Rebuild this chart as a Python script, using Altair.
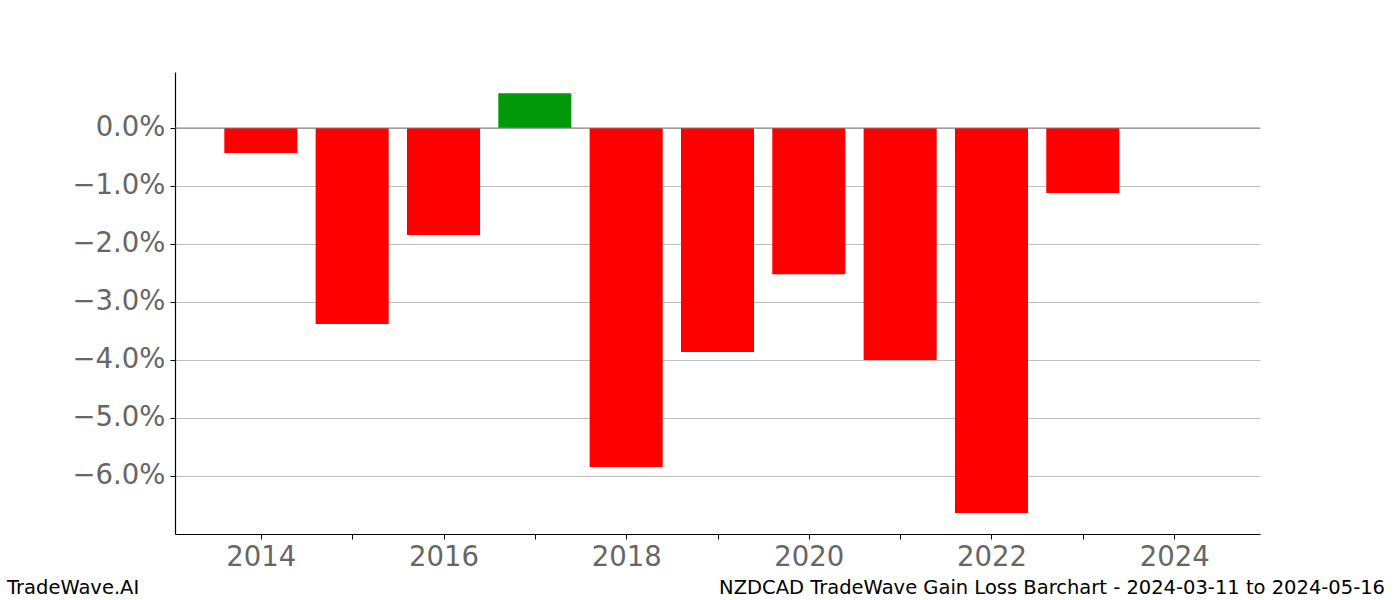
import altair as alt
import pandas as pd

years = [2014, 2015, 2016, 2017, 2018, 2019, 2020, 2021, 2022, 2023]
values = [-0.43, -3.38, -1.845, 0.60, -5.845, -3.86, -2.52, -4.0, -6.64, -1.12]
x_ticks = [2014, 2015, 2016, 2017, 2018, 2019, 2020, 2021, 2022, 2023, 2024]
y_ticks = [0, -1, -2, -3, -4, -5, -6]
left_caption = "TradeWave.AI"
right_caption = "NZDCAD TradeWave Gain Loss Barchart - 2024-03-11 to 2024-05-16"

df = pd.DataFrame({"year": years, "value": values})
df["color"] = ["#00990a" if v > 0 else "#ff0000" for v in values]

FONT = "DejaVu Sans"
xscale = alt.Scale(domain=[2013.06, 2024.94], nice=False, zero=False)
yscale = alt.Scale(domain=[-7.0, 0.9655], nice=False, zero=False)

bars = alt.Chart(df).transform_calculate(
    x0="datum.year - 0.4", x1="datum.year + 0.4"
).mark_bar().encode(
    x=alt.X("x0:Q", scale=xscale, axis=alt.Axis(
        values=x_ticks, title=None, grid=False,
        labelExpr="datum.value % 2 == 0 ? format(datum.value, 'd') : ''",
        labelFont=FONT, labelFontSize=27.5, labelColor="#666666",
        labelPadding=4, tickSize=5, tickColor="black", domainColor="black",
        labelFlush=False)),
    x2="x1:Q",
    y=alt.Y("value:Q", scale=yscale, axis=alt.Axis(
        values=y_ticks, title=None, grid=True, gridColor="#c0c0c0",
        labelExpr="replace(format(datum.value, '.1f'), '-', '\u2212') + '%'",
        labelFont=FONT, labelFontSize=27.5, labelColor="#666666",
        labelPadding=5, tickSize=5, tickColor="black", domainColor="black")),
    y2=alt.datum(0),
    color=alt.Color("color:N", scale=None),
)

zero = alt.Chart(pd.DataFrame({"z": [0]})).mark_rule(color="#808080", strokeWidth=1.2).encode(
    y=alt.Y("z:Q", scale=yscale)
)

cap_df = pd.DataFrame({"t": [left_caption]})
left = alt.Chart(cap_df).mark_text(
    align="left", baseline="middle", font=FONT, fontSize=19.5, color="black"
).encode(text="t:N", x=alt.value(-168), y=alt.value(516))

cap_df2 = pd.DataFrame({"t": [right_caption]})
right = alt.Chart(cap_df2).mark_text(
    align="right", baseline="middle", font=FONT, fontSize=19.5, color="black"
).encode(text="t:N", x=alt.value(1210), y=alt.value(516))

chart = alt.layer(bars, zero, left, right).properties(
    width=1085, height=462, autosize="none",
    padding={"left": 175, "top": 72, "right": 140, "bottom": 66},
    background="white",
).configure_view(stroke=None).configure_axis(domainWidth=1.2)

chart.save("out.html", embed_options={"renderer": "svg", "actions": False})
